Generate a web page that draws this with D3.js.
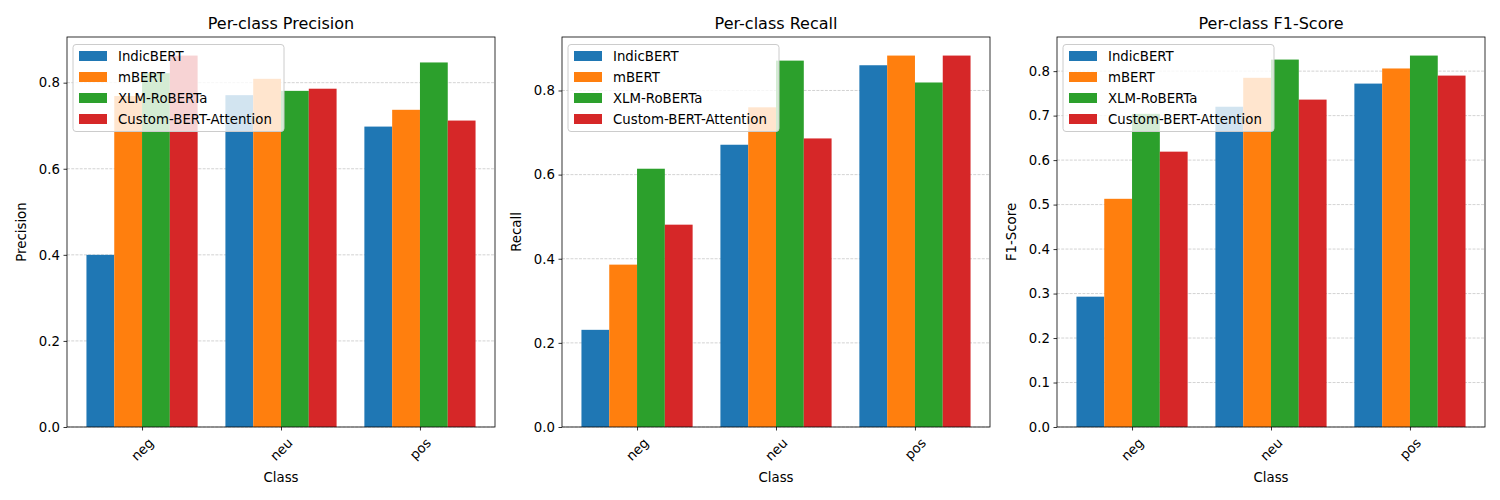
<!DOCTYPE html>
<html><head><meta charset="utf-8">
<script src="https://cdn.jsdelivr.net/npm/d3@7"></script>
<style>body{margin:0;background:#fff}svg{display:block}text{font-family:"DejaVu Sans",sans-serif;fill:#000}</style>
</head><body><svg id="c" width="1500" height="500"></svg>
<script>
const classes = ["neg", "neu", "pos"];
const models = ["IndicBERT", "mBERT", "XLM-RoBERTa", "Custom-BERT-Attention"];
const colors = ["#1f77b4", "#ff7f0e", "#2ca02c", "#d62728"];
// values per model, per class
const precision = [
  [0.400, 0.771, 0.698],
  [0.769, 0.809, 0.737],
  [0.822, 0.781, 0.847],
  [0.863, 0.786, 0.712]
];
const recall = [
  [0.231, 0.671, 0.860],
  [0.386, 0.760, 0.883],
  [0.614, 0.871, 0.819],
  [0.481, 0.686, 0.883]
];
const f1 = [
  [0.293, 0.720, 0.772],
  [0.513, 0.785, 0.806],
  [0.704, 0.826, 0.835],
  [0.619, 0.736, 0.790]
];
const precisionTicks = [0.0, 0.2, 0.4, 0.6, 0.8];
const recallTicks = [0.0, 0.2, 0.4, 0.6, 0.8];
const f1Ticks = [0.0, 0.1, 0.2, 0.3, 0.4, 0.5, 0.6, 0.7, 0.8];

const panels = [
  {title: "Per-class Precision", ylabel: "Precision", data: precision, ticks: precisionTicks, left: 67},
  {title: "Per-class Recall", ylabel: "Recall", data: recall, ticks: recallTicks, left: 562},
  {title: "Per-class F1-Score", ylabel: "F1-Score", data: f1, ticks: f1Ticks, left: 1057}
];

const svg = d3.select("#c");
const W = 428, plotTop = 37, plotBottom = 427;
const barW = 0.2;

panels.forEach(p => {
  const g = svg.append("g");
  const maxV = d3.max(p.data.flat());
  const x = d3.scaleLinear().domain([-0.54, 2.54]).range([p.left, p.left + W]);
  const y = d3.scaleLinear().domain([0, maxV * 1.05]).range([plotBottom, plotTop]);

  // grid
  g.selectAll("line.grid").data(p.ticks).join("line")
    .attr("x1", p.left).attr("x2", p.left + W)
    .attr("y1", d => y(d)).attr("y2", d => y(d))
    .attr("stroke", "#b0b0b0").attr("stroke-opacity", 0.7)
    .attr("stroke-width", 0.8).attr("stroke-dasharray", "2.96,1.28");

  // bars
  p.data.forEach((vals, mi) => {
    g.selectAll(null).data(vals).join("rect")
      .attr("x", (d, ci) => x(ci + (mi - 1.5) * barW - barW / 2))
      .attr("width", (d, ci) => x(ci + (mi - 1.5) * barW + barW / 2) - x(ci + (mi - 1.5) * barW - barW / 2))
      .attr("y", d => y(d))
      .attr("height", d => plotBottom - y(d))
      .attr("fill", colors[mi]);
  });

  // frame
  g.append("rect").attr("x", p.left).attr("y", plotTop).attr("width", W).attr("height", plotBottom - plotTop)
    .attr("fill", "none").attr("stroke", "#000").attr("stroke-width", 0.8);

  // y axis
  const ya = g.append("g").attr("transform", `translate(${p.left},0)`)
    .call(d3.axisLeft(y).tickValues(p.ticks).tickFormat(d3.format(".1f")).tickSize(3.5).tickPadding(3.5));
  ya.select(".domain").remove();
  ya.selectAll("line").attr("stroke", "#000").attr("stroke-width", 0.8);
  ya.selectAll("text").attr("font-size", "13.3px").style("font-family", "DejaVu Sans");

  // x axis
  const xa = g.append("g").attr("transform", `translate(0,${plotBottom})`)
    .call(d3.axisBottom(x).tickValues([0, 1, 2]).tickFormat(i => classes[i]).tickSize(3.5));
  xa.select(".domain").remove();
  xa.selectAll("line").attr("stroke", "#000").attr("stroke-width", 0.8);
  xa.selectAll("text").each(function() {
    const t = d3.select(this);
    t.attr("font-size", "13.3px").style("font-family", "DejaVu Sans")
      .attr("dy", null).attr("y", 0).attr("text-anchor", "middle").attr("dominant-baseline", "central");
    const w = this.getComputedTextLength();
    const h = 13.3;
    const cy = 9 + (w + h) * Math.SQRT1_2 / 2;
    t.attr("transform", `translate(0,${cy}) rotate(-45)`);
  });

  // title
  g.append("text").attr("x", p.left + W / 2).attr("y", 29).attr("text-anchor", "middle")
    .attr("font-size", "16px").text(p.title);
  // x label
  g.append("text").attr("x", p.left + W / 2).attr("y", 482).attr("text-anchor", "middle")
    .attr("font-size", "13.3px").text("Class");
  // y label
  g.append("text").attr("transform", `translate(${p.left - 45.5},${(plotTop + plotBottom) / 2}) rotate(-90)`)
    .attr("text-anchor", "middle").attr("dominant-baseline", "central")
    .attr("font-size", "13.3px").text(p.ylabel);

  // legend
  const lx = p.left + 6, ly = 44.5;
  const lg = g.append("g");
  lg.append("rect").attr("x", lx).attr("y", ly).attr("width", 211).attr("height", 87)
    .attr("rx", 3).attr("fill", "#fff").attr("fill-opacity", 0.8)
    .attr("stroke", "#cccccc").attr("stroke-width", 1);
  models.forEach((m, i) => {
    const cy = 56 + i * 21;
    lg.append("rect").attr("x", lx + 6).attr("y", cy - 5).attr("width", 28).attr("height", 10).attr("fill", colors[i]);
    lg.append("text").attr("x", lx + 45).attr("y", cy).attr("dominant-baseline", "central")
      .attr("font-size", "13.3px").text(m);
  });
});
</script></body></html>
